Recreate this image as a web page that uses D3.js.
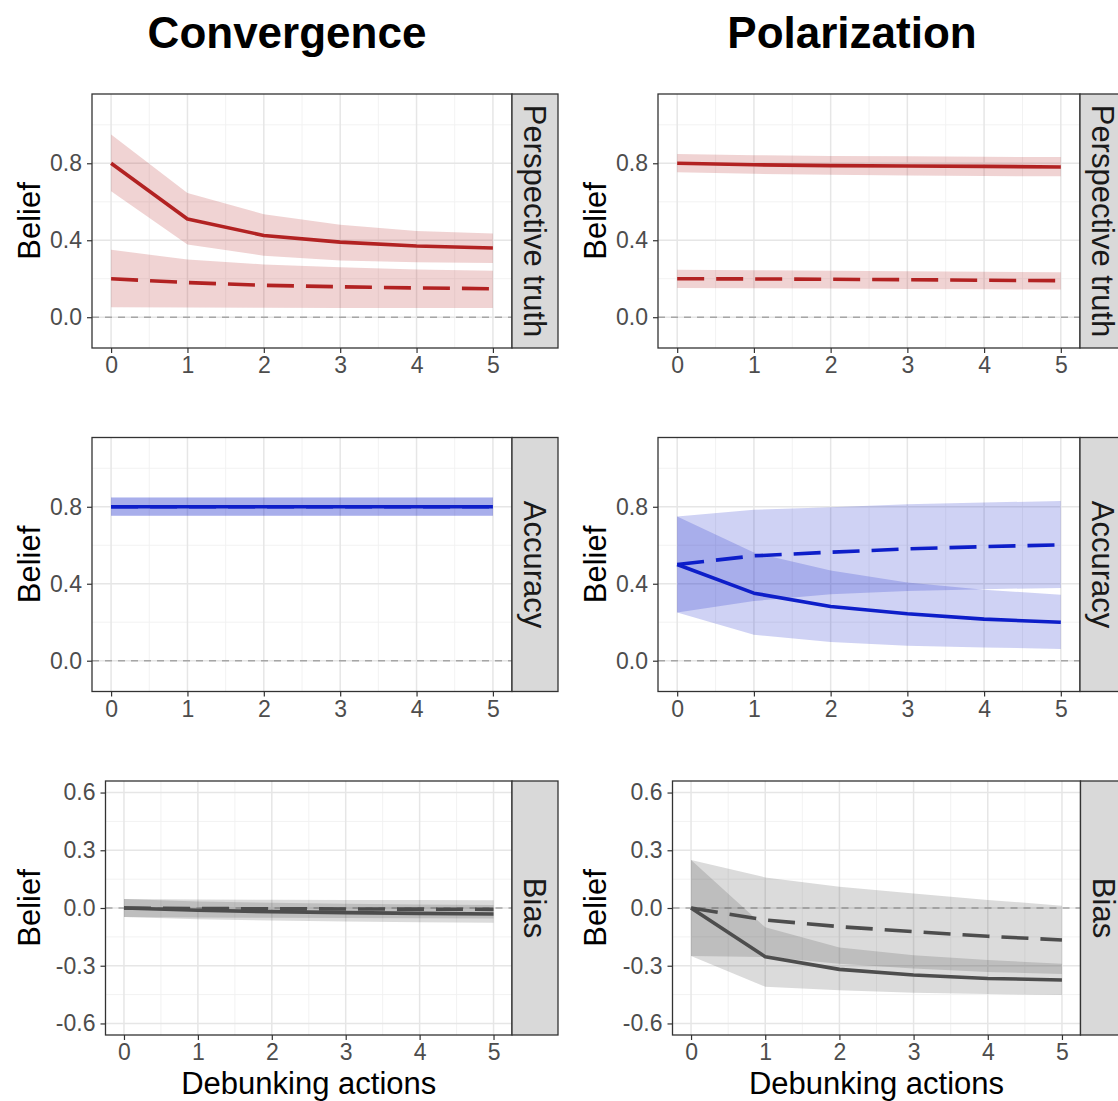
<!DOCTYPE html>
<html>
<head>
<meta charset="utf-8">
<script src="https://cdn.jsdelivr.net/npm/d3@7"></script>
<style>
  body { margin: 0; background: #fff; }
  svg { display: block; font-family: "Liberation Sans", Arial, Helvetica, sans-serif; }
</style>
</head>
<body>
<div id="chart"></div>
<script>
// Belief over debunking actions, two scenarios x three measures (solid / dashed groups with ribbons)

const steps = [0, 1, 2, 3, 4, 5];
const stepsMinor = [0.5, 1.5, 2.5, 3.5, 4.5];
const colTitles = ["Convergence", "Polarization"];
const rowLabels = ["Perspective truth", "Accuracy", "Bias"];

const beliefTicks = [0, 0.4, 0.8];
const beliefMinor = [0.2, 0.6, 1.0];
const biasTicks = [-0.6, -0.3, 0, 0.3, 0.6];
const biasMinor = [-0.45, -0.15, 0.15, 0.45];

// Convergence - Perspective truth
const cTruthSolid    = [0.80, 0.51, 0.425, 0.39, 0.37, 0.36];
const cTruthSolidHi  = [0.95, 0.645, 0.535, 0.48, 0.448, 0.435];
const cTruthSolidLo  = [0.655, 0.378, 0.32, 0.295, 0.286, 0.282];
const cTruthDashed   = [0.20, 0.18, 0.166, 0.158, 0.152, 0.148];
const cTruthDashedHi = [0.35, 0.30, 0.274, 0.26, 0.248, 0.242];
const cTruthDashedLo = [0.052, 0.05, 0.049, 0.048, 0.048, 0.048];

// Polarization - Perspective truth
const pTruthSolid    = [0.80, 0.792, 0.788, 0.786, 0.784, 0.781];
const pTruthSolidHi  = [0.848, 0.842, 0.838, 0.836, 0.834, 0.832];
const pTruthSolidLo  = [0.753, 0.745, 0.74, 0.737, 0.734, 0.732];
const pTruthDashed   = [0.20, 0.199, 0.197, 0.195, 0.192, 0.19];
const pTruthDashedHi = [0.247, 0.244, 0.241, 0.239, 0.236, 0.234];
const pTruthDashedLo = [0.152, 0.15, 0.149, 0.147, 0.145, 0.144];

// Convergence - Accuracy
const cAccSolid    = [0.80, 0.80, 0.80, 0.80, 0.80, 0.80];
const cAccSolidHi  = [0.848, 0.848, 0.848, 0.848, 0.848, 0.848];
const cAccSolidLo  = [0.753, 0.753, 0.753, 0.753, 0.753, 0.753];
const cAccDashed   = [0.80, 0.80, 0.80, 0.80, 0.80, 0.80];
const cAccDashedHi = [0.848, 0.848, 0.848, 0.848, 0.848, 0.848];
const cAccDashedLo = [0.753, 0.753, 0.753, 0.753, 0.753, 0.753];

// Polarization - Accuracy
const pAccSolid    = [0.50, 0.351, 0.282, 0.244, 0.216, 0.20];
const pAccSolidHi  = [0.75, 0.562, 0.469, 0.407, 0.369, 0.343];
const pAccSolidLo  = [0.25, 0.135, 0.097, 0.078, 0.069, 0.061];
const pAccDashed   = [0.50, 0.545, 0.564, 0.581, 0.593, 0.602];
const pAccDashedHi = [0.75, 0.784, 0.798, 0.813, 0.822, 0.83];
const pAccDashedLo = [0.25, 0.31, 0.345, 0.362, 0.372, 0.378];

// Convergence - Bias
const cBiasSolid    = [0, -0.012, -0.019, -0.024, -0.028, -0.031];
const cBiasSolidHi  = [0.047, 0.034, 0.027, 0.022, 0.018, 0.015];
const cBiasSolidLo  = [-0.047, -0.058, -0.065, -0.07, -0.074, -0.077];
const cBiasDashed   = [0, -0.003, -0.004, -0.005, -0.006, -0.007];
const cBiasDashedHi = [0.047, 0.044, 0.043, 0.042, 0.041, 0.04];
const cBiasDashedLo = [-0.047, -0.05, -0.051, -0.052, -0.053, -0.054];

// Polarization - Bias
const pBiasSolid    = [0, -0.253, -0.319, -0.348, -0.366, -0.374];
const pBiasSolidHi  = [0.25, -0.10, -0.205, -0.245, -0.27, -0.29];
const pBiasSolidLo  = [-0.25, -0.409, -0.428, -0.44, -0.447, -0.452];
const pBiasDashed   = [0, -0.062, -0.097, -0.123, -0.147, -0.166];
const pBiasDashedHi = [0.25, 0.159, 0.111, 0.076, 0.042, 0.012];
const pBiasDashedLo = [-0.25, -0.255, -0.29, -0.315, -0.332, -0.343];

const rowColors = ["#b22222", "#0d1ec9", "#4d4d4d"];

function createFacetPlot() {
  const W = 1118, H = 1101;
  const svg = d3.select("#chart").append("svg")
    .attr("width", W).attr("height", H);

  // panel boxes [left, right] per column/row, [top, bottom] per row
  const colX = [
    [[92, 512], [92, 512], [105.5, 512]],
    [[658, 1080], [658, 1080], [672.5, 1080.5]]
  ];
  const rowY = [[94, 348], [437.5, 691.5], [781, 1035]];
  const beliefTitleX = [40, 606];
  const stripW = 46;
  const fmt = d => d.toFixed(1);

  const panels = [
    { col: 0, row: 0, s: [cTruthSolid, cTruthSolidLo, cTruthSolidHi], d: [cTruthDashed, cTruthDashedLo, cTruthDashedHi] },
    { col: 1, row: 0, s: [pTruthSolid, pTruthSolidLo, pTruthSolidHi], d: [pTruthDashed, pTruthDashedLo, pTruthDashedHi] },
    { col: 0, row: 1, s: [cAccSolid, cAccSolidLo, cAccSolidHi], d: [cAccDashed, cAccDashedLo, cAccDashedHi] },
    { col: 1, row: 1, s: [pAccSolid, pAccSolidLo, pAccSolidHi], d: [pAccDashed, pAccDashedLo, pAccDashedHi] },
    { col: 0, row: 2, s: [cBiasSolid, cBiasSolidLo, cBiasSolidHi], d: [cBiasDashed, cBiasDashedLo, cBiasDashedHi] },
    { col: 1, row: 2, s: [pBiasSolid, pBiasSolidLo, pBiasSolidHi], d: [pBiasDashed, pBiasDashedLo, pBiasDashedHi] }
  ];

  // column titles
  const titleX = [287, 852];
  colTitles.forEach((t, i) => {
    svg.append("text")
      .attr("x", titleX[i]).attr("y", 48)
      .attr("text-anchor", "middle")
      .attr("font-size", 44).attr("font-weight", "bold")
      .attr("fill", "#000")
      .text(t);
  });

  panels.forEach(p => {
    const [x0, x1] = colX[p.col][p.row];
    const [y0, y1] = rowY[p.row];
    const isBias = p.row === 2;
    const color = rowColors[p.row];

    const x = d3.scaleLinear().domain([-0.25, 5.25]).range([x0, x1]);
    const y = d3.scaleLinear()
      .domain(isBias ? [-0.66, 0.66] : [-0.16, 1.16])
      .range([y1, y0]);
    const yMajor = isBias ? biasTicks : beliefTicks;
    const yMinor = isBias ? biasMinor : beliefMinor;

    const g = svg.append("g");

    // background grid
    g.append("rect").attr("x", x0).attr("y", y0)
      .attr("width", x1 - x0).attr("height", y1 - y0).attr("fill", "#fff");
    g.selectAll(".vminor").data(stepsMinor).enter().append("line")
      .attr("x1", d => x(d)).attr("x2", d => x(d))
      .attr("y1", y0).attr("y2", y1)
      .attr("stroke", "#f0f0f0").attr("stroke-width", 0.9);
    g.selectAll(".hminor").data(yMinor).enter().append("line")
      .attr("x1", x0).attr("x2", x1)
      .attr("y1", d => y(d)).attr("y2", d => y(d))
      .attr("stroke", "#f0f0f0").attr("stroke-width", 0.9);
    g.selectAll(".vmajor").data(steps).enter().append("line")
      .attr("x1", d => x(d)).attr("x2", d => x(d))
      .attr("y1", y0).attr("y2", y1)
      .attr("stroke", "#e6e6e6").attr("stroke-width", 1.5);
    g.selectAll(".hmajor").data(yMajor).enter().append("line")
      .attr("x1", x0).attr("x2", x1)
      .attr("y1", d => y(d)).attr("y2", d => y(d))
      .attr("stroke", "#e6e6e6").attr("stroke-width", 1.5);

    // zero reference
    g.append("line")
      .attr("x1", x0).attr("x2", x1)
      .attr("y1", y(0)).attr("y2", y(0))
      .attr("stroke", "#a6a6a6").attr("stroke-width", 1.5)
      .attr("stroke-dasharray", "7,6");

    // ribbons
    const area = d3.area()
      .x((d, i) => x(steps[i]))
      .y0(d => y(d[0]))
      .y1(d => y(d[1]));
    [p.s, p.d].forEach(series => {
      const rows = steps.map((s, i) => [series[1][i], series[2][i]]);
      g.append("path").datum(rows)
        .attr("d", area)
        .attr("fill", color).attr("fill-opacity", 0.2);
    });

    // lines
    const line = d3.line().x((d, i) => x(steps[i])).y(d => y(d));
    g.append("path").datum(p.d[0])
      .attr("d", line)
      .attr("fill", "none").attr("stroke", color)
      .attr("stroke-width", 3.6)
      .attr("stroke-dasharray", "27,12");
    g.append("path").datum(p.s[0])
      .attr("d", line)
      .attr("fill", "none").attr("stroke", color)
      .attr("stroke-width", 3.6)
      .attr("stroke-linejoin", "round");

    // panel border
    g.append("rect").attr("x", x0).attr("y", y0)
      .attr("width", x1 - x0).attr("height", y1 - y0)
      .attr("fill", "none").attr("stroke", "#333").attr("stroke-width", 1.3);

    // strip
    g.append("rect").attr("x", x1).attr("y", y0)
      .attr("width", stripW).attr("height", y1 - y0)
      .attr("fill", "#d9d9d9").attr("stroke", "#333").attr("stroke-width", 1.3);
    const sx = x1 + stripW / 2, sy = (y0 + y1) / 2;
    g.append("text")
      .attr("transform", `translate(${sx},${sy}) rotate(90)`)
      .attr("text-anchor", "middle")
      .attr("dy", "0.35em")
      .attr("font-size", 31).attr("fill", "#1a1a1a")
      .text(rowLabels[p.row]);

    // axes
    const yAxis = g.append("g")
      .attr("transform", `translate(${x0},0)`)
      .call(d3.axisLeft(y).tickValues(yMajor).tickFormat(fmt).tickSize(5).tickPadding(5));
    const xAxis = g.append("g")
      .attr("transform", `translate(0,${y1})`)
      .call(d3.axisBottom(x).tickValues(steps).tickFormat(d3.format("d")).tickSize(5).tickPadding(4));
    [yAxis, xAxis].forEach(a => {
      a.select(".domain").remove();
      a.selectAll(".tick line").attr("stroke", "#333").attr("stroke-width", 1.2);
      a.selectAll(".tick text")
        .attr("fill", "#4d4d4d").attr("font-size", 23)
        .attr("font-family", "Liberation Sans, Arial, sans-serif");
    });

    // y title
    svg.append("text")
      .attr("transform", `translate(${beliefTitleX[p.col]},${(y0 + y1) / 2}) rotate(-90)`)
      .attr("text-anchor", "middle")
      .attr("font-size", 31).attr("fill", "#000")
      .text("Belief");

    // x title on bottom row only
    if (isBias) {
      svg.append("text")
        .attr("x", (x0 + x1) / 2).attr("y", 1094)
        .attr("text-anchor", "middle")
        .attr("font-size", 31).attr("fill", "#000")
        .text("Debunking actions");
    }
  });
}

document.addEventListener("DOMContentLoaded", createFacetPlot);
</script>
</body>
</html>
